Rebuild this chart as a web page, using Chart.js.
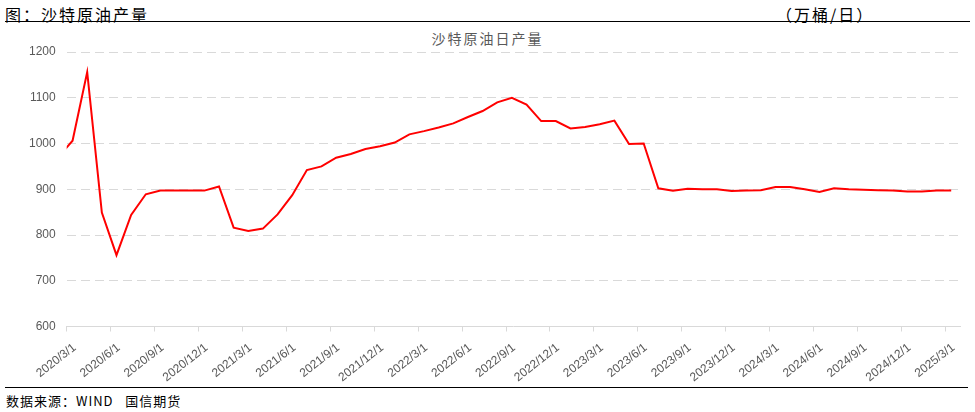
<!DOCTYPE html>
<html>
<head>
<meta charset="utf-8">
<script src="https://cdn.jsdelivr.net/npm/chart.js@4.4.1/dist/chart.umd.min.js"></script>
<style>
  body { margin: 0; background: #fff; width: 975px; height: 412px; position: relative; overflow: hidden;
         font-family: "Noto Sans CJK SC", sans-serif; }
  .hdr { position: absolute; top: 2px; font-size: 16px; letter-spacing: 2px; color: #000; }
  .rule { position: absolute; left: 5px; height: 0; border-top: 1.5px solid #000; }
  #ctitle { position: absolute; top: 28px; left: 0; width: 975px; text-align: center;
            font-size: 14px; letter-spacing: 2px; color: #595959; }
  #wrap { position: absolute; left: 0; top: 24px; width: 975px; height: 360px; }
  #foot { position: absolute; left: 6px; top: 391px; font-size: 13px; letter-spacing: 1px; color: #000; }
</style>
</head>
<body>
<div class="hdr" style="left:5px">图：沙特原油产量</div>
<div class="hdr" style="left:776px">（万桶/日）</div>
<div class="rule" style="top:21px; width:965px"></div>
<div id="ctitle">沙特原油日产量</div>
<div id="wrap"><canvas id="c"></canvas></div>
<div class="rule" style="top:387px; width:963px"></div>
<div id="foot">数据来源：WIND&nbsp;&nbsp;&nbsp;国信期货</div>
<script>
// monthly readings, Feb 2020 .. Mar 2025 (万桶/日)
const startYear = 2020, startMonth = 2;
const production = [
  970, 1006, 1156, 849, 756, 844, 889, 897, 897, 897, 897,
  906, 816, 809, 814, 845, 887, 942, 950, 969, 977, 988, 994,
  1002, 1020, 1027, 1035, 1044, 1058, 1071, 1090, 1100, 1085, 1049, 1049,
  1033, 1036, 1042, 1050, 999, 1000, 902, 897, 901, 900, 900, 896,
  897, 898, 905, 905, 900, 894, 902, 900, 899, 898, 897, 895,
  895, 897, 897
];
const tickLabels = [
  "2020/3/1", "2020/6/1", "2020/9/1", "2020/12/1",
  "2021/3/1", "2021/6/1", "2021/9/1", "2021/12/1",
  "2022/3/1", "2022/6/1", "2022/9/1", "2022/12/1",
  "2023/3/1", "2023/6/1", "2023/9/1", "2023/12/1",
  "2024/3/1", "2024/6/1", "2024/9/1", "2024/12/1",
  "2025/3/1"
];
const yTicks = [600, 700, 800, 900, 1000, 1100, 1200];

// x = months since 2020/3/1, each reading dated around the 13th
const dayOffset = 12 / 30;
const points = production.map((v, i) => {
  const m = (startYear - 2020) * 12 + (startMonth - 3) + i;
  return { x: m + dayOffset, y: v };
});

const gray = "#595959";
new Chart(document.getElementById("c"), {
  type: "line",
  data: {
    datasets: [{
      data: points,
      borderColor: "#ff0000",
      borderWidth: 2,
      pointRadius: 0,
      tension: 0
    }]
  },
  options: {
    responsive: true,
    maintainAspectRatio: false,
    animation: false,
    layout: { padding: { top: 28, right: 15, left: 0, bottom: 0 } },
    plugins: { legend: { display: false }, tooltip: { enabled: false } },
    scales: {
      x: {
        type: "linear",
        min: 0, max: 61,
        afterFit: s => { s.height = 57.5; },
        border: { display: true, color: "#d9d9d9" },
        grid: { drawOnChartArea: false, drawTicks: true, tickLength: 5, color: "#d9d9d9" },
        ticks: {
          stepSize: 3,
          includeBounds: false,
          autoSkip: false,
          minRotation: 38, maxRotation: 38,
          padding: 9,
          labelOffset: 8,
          color: gray,
          font: { family: "Liberation Sans", size: 12 },
          callback: v => tickLabels[v / 3]
        }
      },
      y: {
        min: yTicks[0], max: yTicks[yTicks.length - 1],
        afterFit: s => { s.width = 66.7; },
        border: { display: false, dash: [9, 5] },
        grid: { drawTicks: false, color: "#d9d9d9" },
        ticks: {
          stepSize: 100,
          padding: 11,
          color: gray,
          font: { family: "Liberation Sans", size: 12 },
          callback: v => String(v)
        }
      }
    }
  }
});
</script>
</body>
</html>
